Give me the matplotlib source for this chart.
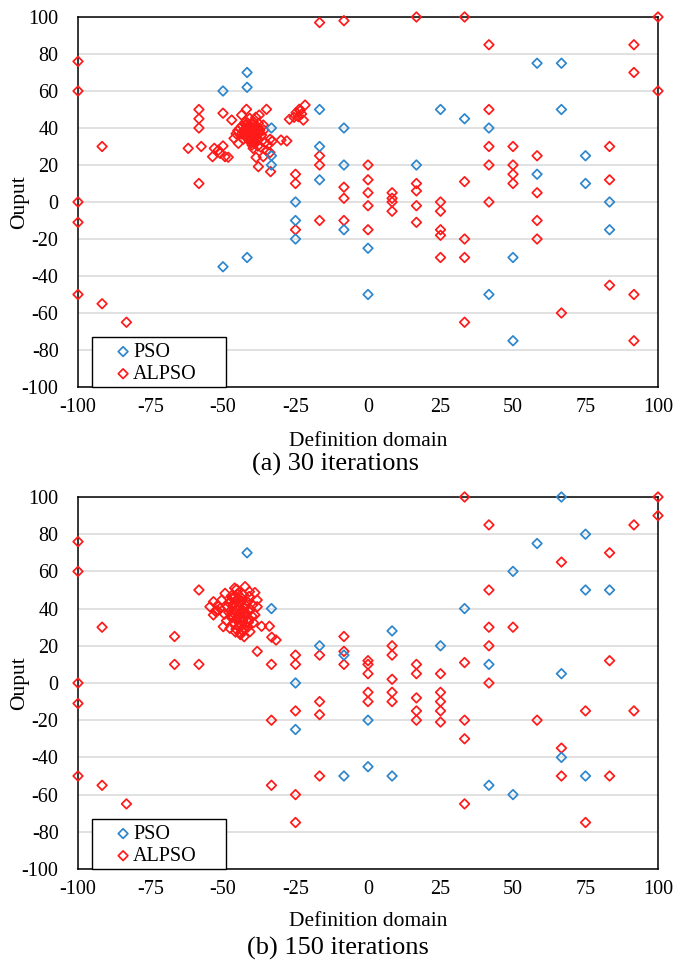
import numpy as np
import matplotlib
matplotlib.use("Agg")
import matplotlib.pyplot as plt
from matplotlib.patches import Rectangle

plt.rcParams['font.family'] = ['Liberation Serif', 'DejaVu Serif']
plt.rcParams['axes.unicode_minus'] = False

#%% (a) 30 iterations
a_pso_x = [-50, -50, -41.7, -41.7, -41.7, -33.3, -33.3, -33.3, -25, -25, -25,
           -16.7, -16.7, -16.7, -8.3, -8.3, -8.3, 0, 0, 16.7, 25, 33.3, 41.7, 41.7,
           50, 50, 58.3, 58.3, 66.7, 66.7, 75, 75, 83.3, 83.3]
a_pso_y = [60, -35, 70, 62, -30, 40, 25, 20, 0, -10, -20,
           50, 30, 12, 40, 20, -15, -25, -50, 20, 50, 45, 40, -50,
           -30, -75, 75, 15, 75, 50, 25, 10, 0, -15]

a_alpso_x = [-100, -100, -100, -100, -100, -91.7, -91.7, -83.3,
             -62, -57.5, -58.3, -58.3, -58.3, -58.3,
             -53, -50, -53.6, -51, -49.3, -48.2, -51.6, -50,
             -33, -30, -28,
             -21.7, -23.7, -24.8, -22.9, -25.5, -27.1, -22.3, -23.4, -24,
             -25, -25, -25, -16.7, -16.7, -16.7, -16.7, -8.3, -8.3, -8.3, -8.3,
             0, 0, 0, 0, 0, 8.3, 8.3, 8.3, 8.3, 16.7, 16.7, 16.7, 16.7, 16.7,
             25, 25, 25, 25, 25, 33.3, 33.3, 33.3, 33.3, 33.3,
             41.7, 41.7, 41.7, 41.7, 41.7, 50, 50, 50, 50, 58.3, 58.3, 58.3, 58.3,
             66.7, 83.3, 83.3, 83.3, 91.7, 91.7, 91.7, 91.7, 100, 100]
a_alpso_y = [76, 60, 0, -11, -50, 30, -55, -65,
             29, 30, 50, 45, 40, 10,
             29, 30.3, 24.5, 26.3, 24.5, 24.2, 28, 48,
             33, 33.5, 33,
             52.4, 50.1, 48.3, 47.6, 45.8, 44.7, 44.3, 49.3, 46.1,
             15, 10, -15, 97, 25, 20, -10, 98, 8, 2, -10,
             20, 12, 5, -2, -15, 5, 2, 0, -5, 100, 10, 6, -2, -11,
             0, -5, -15, -18, -30, 100, 11, -20, -30, -65,
             85, 50, 30, 20, 0, 30, 20, 15, 10, 25, 5, -10, -20,
             -60, 30, 12, -45, 85, 70, -50, -75, 100, 60]

# dense swarm round (-40, 38)
a_swarm_x = [-41.9, -35.0, -37.5, -43.6, -47.0, -40.8, -38.7, -42.5, -40.1, -37.8,
             -36.1, -44.2, -41.9, -39.6, -37.3, -41.3, -39.0, -43.6, -36.7, -46.2,
             -43.0, -40.7, -38.2, -33.8, -44.7, -40.1, -35.5, -39.6, -35.0, -36.1,
             -38.6, -33.8, -37.8, -33.6, -42.4, -40.1, -42.1, -38.4, -35.9, -41.0,
             -39.5, -40.5, -41.5, -39.0, -42.8, -41.8, -40.9, -39.9, -38.9, -37.9,
             -42.3, -41.3, -40.3, -39.3, -38.3, -37.3, -41.6, -40.6, -39.6, -38.6,
             -42.0, -41.0, -40.0, -39.0, -38.0, -36.9, -43.4, -44.9, -45.5, -34.5]
a_swarm_y = [50.1, 50.1, 47.0, 47.0, 44.3, 45.2, 45.8, 42.9, 42.2, 42.5,
             41.6, 39.8, 39.8, 39.8, 38.9, 38.0, 37.1, 36.8, 36.2, 34.4,
             33.9, 33.9, 34.4, 33.9, 31.7, 32.1, 32.1, 29.0, 27.7, 24.5,
             24.1, 26.7, 19.1, 16.4, 35.6, 35.6, 41.6, 40.7, 38.9, 38.5,
             37.5, 36.5, 40.5, 35.5, 38.8, 37.3, 39.4, 36.9, 38.2, 40.1,
             36.2, 34.8, 37.9, 34.2, 36.0, 37.4, 42.8, 41.1, 43.5, 39.6,
             40.2, 33.2, 30.8, 32.6, 30.2, 29.6, 41.2, 38.6, 36.9, 30.9]

#%% (b) 150 iterations
b_pso_x = [-41.7, -33.3, -25, -25, -16.7, -8.3, -8.3, 0, 0, 8.3, 8.3, 25, 33.3,
           41.7, 41.7, 50, 50, 58.3, 66.7, 66.7, 66.7, 75, 75, 75, 83.3]
b_pso_y = [70, 40, 0, -25, 20, 15, -50, -20, -45, 28, -50, 20, 40,
           10, -55, 60, -60, 75, 100, 5, -40, 80, 50, -50, 50]

b_alpso_x = [-100, -100, -100, -100, -100, -91.7, -91.7, -83.3,
             -66.7, -66.7, -58.3, -58.3,
             -38.2, -36.7, -34, -33.2, -31.7,
             -33.3, -33.3, -33.3, -25, -25, -25, -25, -25,
             -16.7, -16.7, -16.7, -16.7, -8.3, -8.3, -8.3,
             0, 0, 0, 0, 0, 8.3, 8.3, 8.3, 8.3, 8.3,
             16.7, 16.7, 16.7, 16.7, 16.7, 25, 25, 25, 25, 25,
             33.3, 33.3, 33.3, 33.3, 33.3, 41.7, 41.7, 41.7, 41.7, 41.7,
             50, 58.3, 66.7, 66.7, 66.7, 75, 75, 83.3, 83.3, 83.3,
             91.7, 91.7, 100, 100]
b_alpso_y = [76, 60, 0, -11, -50, 30, -55, -65,
             25, 10, 50, 10,
             17, 30.5, 30.5, 24.6, 23.1,
             10, -20, -55, 15, 10, -15, -60, -75,
             15, -10, -17, -50, 25, 17, 10,
             12, 10, 5, -5, -10, 20, 15, 2, -5, -10,
             10, 5, -8, -15, -20, 5, -5, -10, -15, -21,
             100, 11, -20, -30, -65, 85, 50, 30, 20, 0,
             30, -20, 65, -35, -50, -15, -75, 70, 12, -50,
             85, -15, 100, 90]

b_swarm_x = [-42.4, -45.3, -49.3, -40.9, -39.0, -38.2, -38.2, -39.0, -39.5, -40.7,
             -42.7, -44.1, -49.9, -47.6, -53.3, -54.5, -53.3, -51.0,
             -47.0, -45.0, -43.0, -41.0, -47.5, -45.5, -43.5, -41.5, -39.8,
             -48.5, -46.5, -44.5, -42.5, -40.5, -48.0, -46.0, -44.0, -42.0, -40.0,
             -47.0, -45.0, -43.0, -41.0, -46.5, -44.5, -42.5, -45.5, -43.5,
             -48.8, -50.5, -52.0, -44.0, -46.0, -41.5,
             -46.2, -45.2, -44.2, -43.2, -42.2, -41.2, -47.2, -46.2, -45.2, -44.2,
             -43.2, -42.2, -41.2, -46.8, -45.8, -44.8, -43.8, -42.8, -47.8, -49.5,
             -51.8, -52.5, -44.7, -43.7, -42.7, -45.7]
b_swarm_y = [51.8, 50.4, 48.2, 49.1, 48.6, 44.6, 41.0, 36.6, 32.4, 27.6,
             24.9, 26.7, 30.3, 29.4, 43.7, 41.0, 36.6, 40.1,
             47.0, 48.0, 47.5, 46.5, 44.0, 44.5, 44.0, 43.5, 42.0,
             41.0, 41.5, 41.0, 40.5, 39.5, 38.0, 38.5, 38.0, 37.5, 36.0,
             35.0, 35.5, 35.0, 34.0, 32.0, 32.5, 31.5, 29.0, 28.5,
             33.5, 44.5, 39.0, 26.0, 51.0, 30.0,
             42.8, 40.2, 42.6, 39.2, 41.8, 38.8, 36.8, 37.2, 34.2, 36.6,
             33.4, 35.8, 32.8, 45.8, 46.4, 45.2, 46.0, 37.0, 43.0, 37.0,
             41.8, 38.4, 30.2, 30.8, 29.2, 27.4]

xticks = [-100, -75, -50, -25, 0, 25, 50, 75, 100]
yticks = list(range(-100, 101, 20))

blue = '#2E86CC'
red = '#FF1A1A'


def panel(ax, px, py, rx, ry, sx, sy):
    r = ax.scatter(rx + sx, ry + sy, marker='D', s=24, facecolors='none',
                   edgecolors=red, linewidths=1.25, zorder=3, clip_on=False)
    b = ax.scatter(px, py, marker='D', s=24, facecolors='none',
                   edgecolors=blue, linewidths=1.25, zorder=4, clip_on=False)
    ax.set_xlim(-100, 100)
    ax.set_ylim(-100, 100)
    ax.set_xticks(xticks)
    ax.set_yticks(yticks)
    ax.tick_params(length=0, labelsize=14.5)
    ax.tick_params(axis='y', pad=14)
    ax.tick_params(axis='x', pad=8)
    ax.grid(axis='y', color='#D9D9D9', lw=1.1, zorder=0)
    ax.set_axisbelow(True)
    for s in ax.spines.values():
        s.set_color('black')
        s.set_linewidth(1.1)
    # legend box drawn separately so the padding matches the original
    ax.add_patch(Rectangle((14/580, 0.0), 134/580, 50/370, transform=ax.transAxes,
                           facecolor='white', edgecolor='black', lw=1.0,
                           zorder=5, clip_on=False))
    leg = ax.legend([b, r], ['PSO', 'ALPSO'], loc='lower left',
                    bbox_to_anchor=(32/580, 0.0), borderaxespad=0,
                    fontsize=14.5, frameon=False,
                    handletextpad=0.0, borderpad=0.15, labelspacing=0.15,
                    handlelength=1.0)
    leg.set_zorder(6)


fig = plt.figure(figsize=(6.76, 9.66), dpi=100)
ax1 = fig.add_axes([78/676, 1-387/966, 580/676, 370/966])
ax2 = fig.add_axes([78/676, 1-869/966, 580/676, 372/966])

panel(ax1, a_pso_x, a_pso_y, a_alpso_x, a_alpso_y, a_swarm_x, a_swarm_y)
panel(ax2, b_pso_x, b_pso_y, b_alpso_x, b_alpso_y, b_swarm_x, b_swarm_y)

fig.text(20/676, 1-202/966, 'Ouput', rotation=90, ha='center', va='center', fontsize=15.5)
fig.text(20/676, 1-683/966, 'Ouput', rotation=90, ha='center', va='center', fontsize=15.5)
fig.text(368/676, 1-442/966, 'Definition domain', ha='center', va='center', fontsize=15.5)
fig.text(368/676, 1-922/966, 'Definition domain', ha='center', va='center', fontsize=15.5)
fig.text(335/676, 1-464/966, '(a) 30 iterations', ha='center', va='center', fontsize=19)
fig.text(338/676, 1-948/966, '(b) 150 iterations', ha='center', va='center', fontsize=19)

plt.savefig('out.png', dpi=100)
